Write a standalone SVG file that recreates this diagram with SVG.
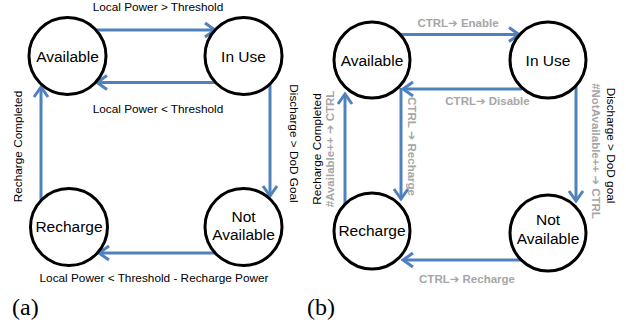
<svg xmlns="http://www.w3.org/2000/svg" width="626" height="329" viewBox="0 0 626 329">
<style>
.node{fill:#fff;stroke:#000;stroke-width:3}
.nl{font-family:"Liberation Sans",Arial,sans-serif;font-size:15.5px;fill:#000;text-anchor:middle}
.lbl{font-family:"Liberation Sans",Arial,sans-serif;font-size:11.8px;fill:#000;text-anchor:middle}
.g{font-family:"Liberation Sans",Arial,"DejaVu Sans",sans-serif;font-size:11.5px;font-weight:bold;fill:#a6a6a6;text-anchor:middle}
.cap{font-family:"Liberation Serif","Times New Roman",serif;font-size:24px;fill:#000}
.e{fill:none;stroke:#4f81bd;stroke-width:3;marker-end:url(#ah)}
</style>
<defs>
<marker id="ah" markerUnits="userSpaceOnUse" markerWidth="16" markerHeight="18" viewBox="0 0 16 18" refX="12" refY="9" orient="auto" overflow="visible">
<path d="M2,2 L12,9 L2,16" fill="none" stroke="#4f81bd" stroke-width="3"/>
</marker>
</defs>

<g id="connectors">
<!-- (a) -->
<line class="e" x1="95" y1="30" x2="215" y2="30"/>
<line class="e" x1="217" y1="82.5" x2="97" y2="82.5"/>
<line class="e" x1="270" y1="82" x2="270" y2="196"/>
<line class="e" x1="41" y1="200" x2="41" y2="87"/>
<line class="e" x1="217" y1="253" x2="99" y2="253"/>
<!-- (b) -->
<line class="e" x1="399" y1="34.5" x2="519" y2="34.5"/>
<line class="e" x1="522" y1="89" x2="403" y2="89"/>
<line class="e" x1="401" y1="88" x2="401" y2="199"/>
<line class="e" x1="576" y1="86" x2="576" y2="201"/>
<line class="e" x1="345" y1="205" x2="345" y2="94"/>
<line class="e" x1="523" y1="260" x2="403" y2="260"/>
</g>

<g id="labels-a">
<text class="lbl" x="158" y="11">Local Power &gt; Threshold</text>
<text class="lbl" x="158" y="113">Local Power &lt; Threshold</text>
<text class="lbl" transform="translate(290,143.5) rotate(90)">Discharge &gt; DoD Goal</text>
<text class="lbl" transform="translate(22,146.5) rotate(-90)">Recharge Completed</text>
<text class="lbl" x="154" y="282">Local Power &lt; Threshold - Recharge Power</text>
<text class="cap" x="12" y="315">(a)</text>
</g>

<g id="labels-b">
<text class="g" x="458" y="26.5">CTRL➔ Enable</text>
<text class="g" x="487.5" y="105">CTRL➔ Disable</text>
<text class="g" transform="translate(408,146.5) rotate(90)">CTRL ➔ Recharge</text>
<text class="g" transform="translate(591.5,151) rotate(90)">#NotAvailable++ ➔ CTRL</text>
<text class="lbl" transform="translate(606.5,145.5) rotate(90)">Discharge &gt; DoD goal</text>
<text class="lbl" transform="translate(321,149) rotate(-90)">Recharge Completed</text>
<text class="g" transform="translate(334,149) rotate(-90)">#Available++ ➔ CTRL</text>
<text class="g" x="467" y="283">CTRL➔ Recharge</text>
<text class="cap" x="307" y="315">(b)</text>
</g>

<g id="a-available"><circle class="node" cx="67.5" cy="56" r="38.5"/><text class="nl" x="67.5" y="61.5">Available</text></g>
<g id="a-inuse"><circle class="node" cx="243.5" cy="56" r="38.5"/><text class="nl" x="243.5" y="61.5">In Use</text></g>
<g id="a-recharge"><circle class="node" cx="69" cy="227" r="38.5"/><text class="nl" x="69" y="232">Recharge</text></g>
<g id="a-notavailable"><circle class="node" cx="243.5" cy="227" r="38.5"/><text class="nl" x="243.5" y="221.5">Not</text><text class="nl" x="243.5" y="240">Available</text></g>

<g id="b-available"><circle class="node" cx="372" cy="60" r="38"/><text class="nl" x="372" y="65.5">Available</text></g>
<g id="b-inuse"><circle class="node" cx="548" cy="60" r="38"/><text class="nl" x="548" y="65.5">In Use</text></g>
<g id="b-recharge"><circle class="node" cx="372" cy="231" r="38"/><text class="nl" x="372" y="236">Recharge</text></g>
<g id="b-notavailable"><circle class="node" cx="548" cy="233" r="38"/><text class="nl" x="548" y="225">Not</text><text class="nl" x="548" y="244">Available</text></g>
</svg>
